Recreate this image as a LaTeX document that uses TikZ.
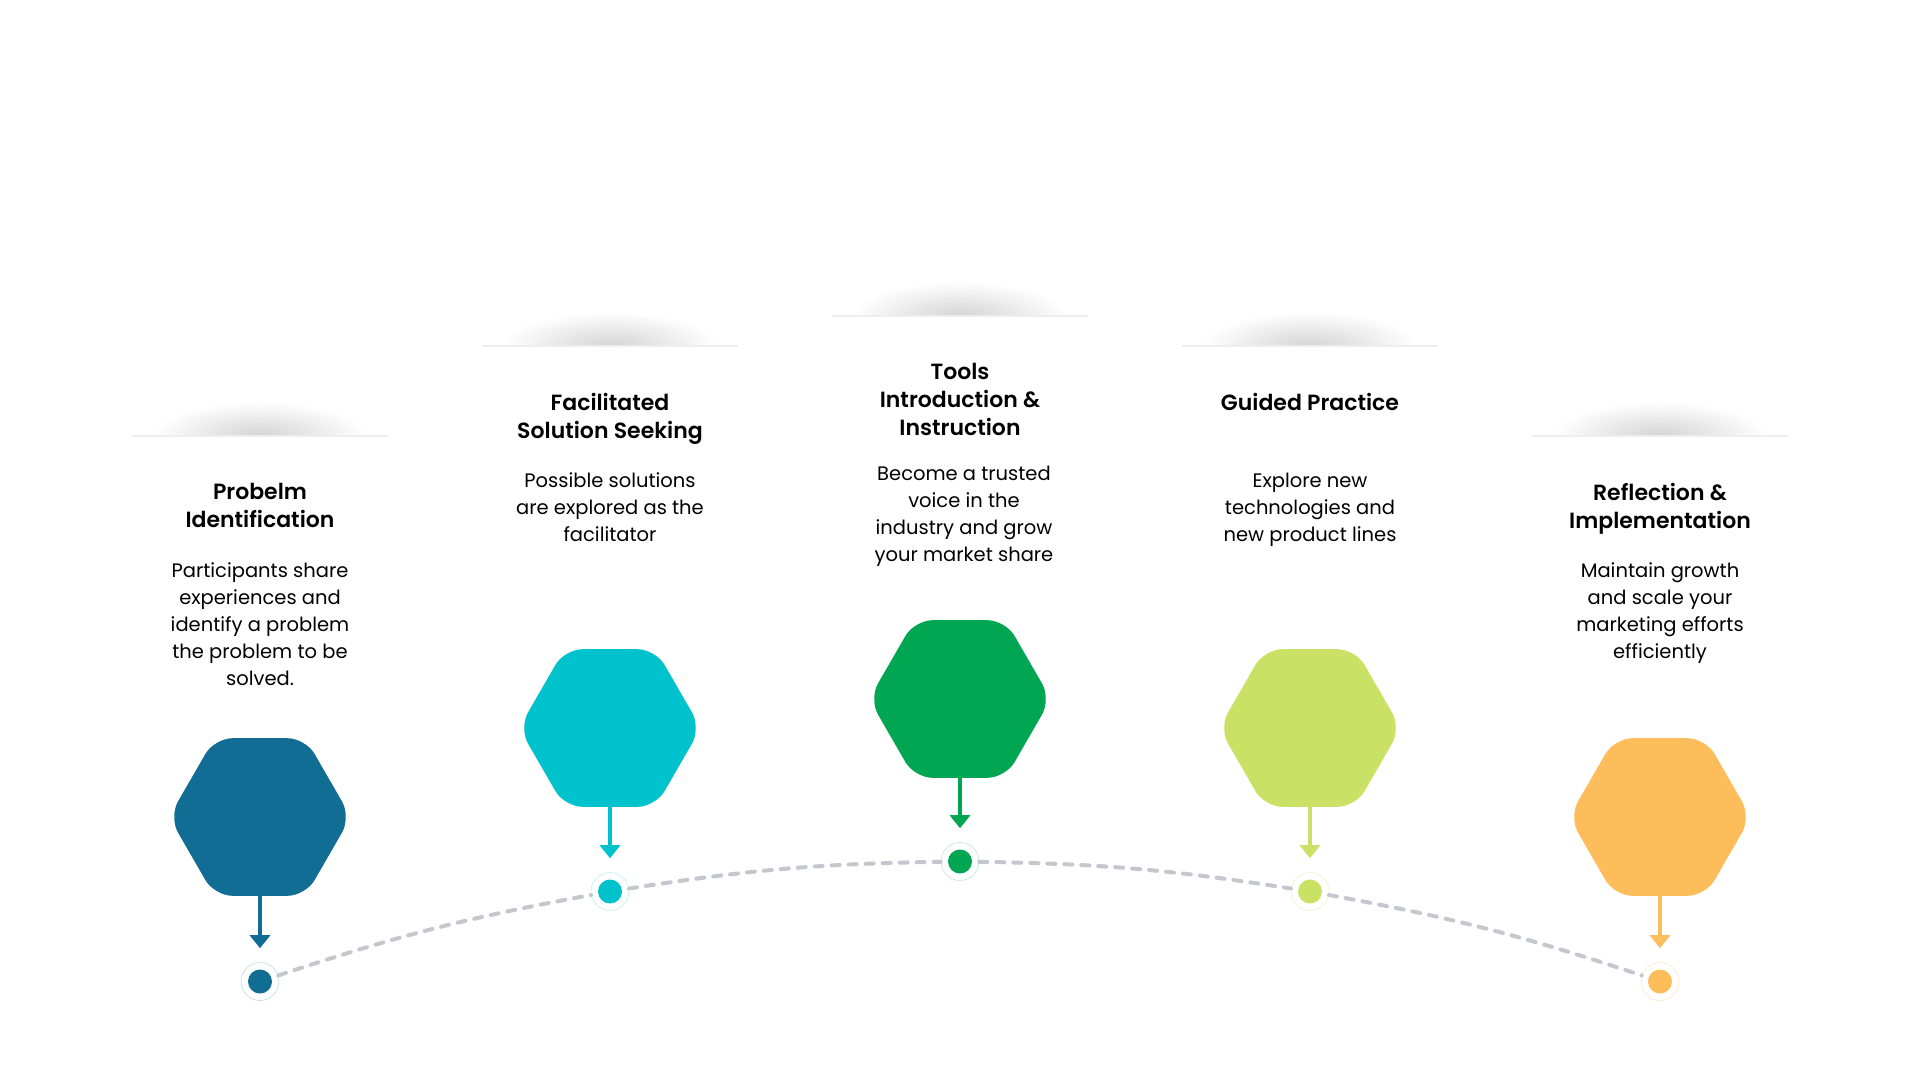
\documentclass[tikz,border=0pt]{standalone}
\usepackage{fontspec}
\setmainfont{Poppins}[BoldFont={Poppins SemiBold}]
\usetikzlibrary{shapes.geometric, arrows.meta}

\definecolor{stepA}{HTML}{126D94}
\definecolor{stepB}{HTML}{00C2CC}
\definecolor{stepC}{HTML}{00A651}
\definecolor{stepD}{HTML}{C9E265}
\definecolor{stepE}{HTML}{FDBD5A}
\definecolor{trailgray}{HTML}{C5C7CF}
\definecolor{edgegray}{HTML}{EEEEEE}

% soft shadow with a thin line under it: centre x, line y
\newcommand{\cardtop}[2]{
  \begin{scope}
    \clip (#1-130,#2-45) rectangle (#1+130,#2);
    \shade[inner color=black!17, outer color=white] (#1,#2) ellipse (108 and 34);
  \end{scope}
  \draw[edgegray, line width=2pt] (#1-128,#2) -- (#1+128,#2);
}

\tikzset{
  hexa/.style={regular polygon, regular polygon sides=6, minimum size=182pt,
    inner sep=0pt, outer sep=0pt, rounded corners=18pt},
  ring/.style={circle, minimum size=38pt, inner sep=0pt, fill=white, line width=0.6pt},
  drop/.style={line width=4pt, -{Triangle[width=20pt,length=13pt]}, shorten >=14pt},
  trail/.style={trailgray, line width=4pt, line cap=round, dash pattern=on 8pt off 9pt},
  steptitle/.style={font=\fontsize{22}{28}\selectfont\bfseries, align=center, anchor=north, inner sep=0pt},
  stepbody/.style={font=\fontsize{19.5}{27}\selectfont, align=center, anchor=north, inner sep=0pt},
}

\begin{document}
\begin{tikzpicture}[x=1pt, y=-1pt]
  \useasboundingbox[fill=white] (0,0) rectangle (1920,1080);

  \cardtop{260}{436}
  \cardtop{610}{346}
  \cardtop{960}{316}
  \cardtop{1310}{346}
  \cardtop{1660}{436}

  \node[steptitle] (t1) at (260,483.5) {Probelm\\Identification};
  \node[stepbody] (b1) at (260,562.5) {Participants share\\experiences and\\identify a problem\\the problem to be\\solved.};
  \node[steptitle] (t2) at (610,393.5) {Facilitated\\Solution Seeking};
  \node[stepbody] (b2) at (610,472.5) {Possible solutions\\are explored as the\\facilitator};
  \node[steptitle] (t3) at (960,363.5) {Tools\\Introduction \&\\Instruction};
  \node[stepbody] (b3) at (964,465.5) {Become a trusted\\voice in the\\industry and grow\\your market share};
  \node[steptitle] (t4) at (1310,393.5) {Guided Practice};
  \node[stepbody] (b4) at (1310,472.5) {Explore new\\technologies and\\new product lines};
  \node[steptitle] (t5) at (1660,483.5) {Reflection \&\\Implementation};
  \node[stepbody] (b5) at (1660,562.5) {Maintain growth\\and scale your\\marketing efforts\\efficiently};

  \node[hexa, fill=stepA] (h1) at (260,817) {};
  \node[hexa, fill=stepB] (h2) at (610,728) {};
  \node[hexa, fill=stepC] (h3) at (960,699) {};
  \node[hexa, fill=stepD] (h4) at (1310,728) {};
  \node[hexa, fill=stepE] (h5) at (1660,817) {};

  \node[ring, draw=stepA!25] (d1) at (260,981.5) {};
  \node[ring, draw=stepB!25] (d2) at (610,891.5) {};
  \node[ring, draw=stepC!25] (d3) at (960,861.5) {};
  \node[ring, draw=stepD!35] (d4) at (1310,891.5) {};
  \node[ring, draw=stepE!35] (d5) at (1660,981.5) {};

  \draw[trail] (d1) to[bend left=4] (d2);
  \draw[trail] (d2) to[bend left=4] (d3);
  \draw[trail] (d3) to[bend left=4] (d4);
  \draw[trail] (d4) to[bend left=4] (d5);

  \fill[stepA] (d1) circle (12);
  \fill[stepB] (d2) circle (12);
  \fill[stepC] (d3) circle (12);
  \fill[stepD] (d4) circle (12);
  \fill[stepE] (d5) circle (12);

  \draw[drop, stepA] (h1.south) -- (d1);
  \draw[drop, stepB] (h2.south) -- (d2);
  \draw[drop, stepC] (h3.south) -- (d3);
  \draw[drop, stepD] (h4.south) -- (d4);
  \draw[drop, stepE] (h5.south) -- (d5);
\end{tikzpicture}
\end{document}
